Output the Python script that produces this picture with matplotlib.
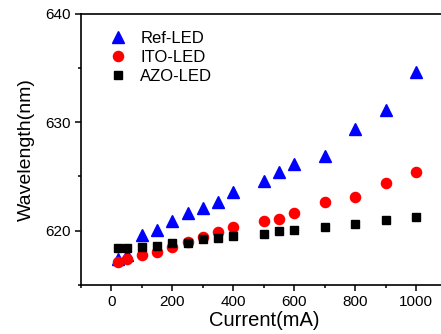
import matplotlib
matplotlib.use("Agg")
import matplotlib.pyplot as plt
from matplotlib.ticker import MultipleLocator

plt.rcParams['font.family'] = ['Liberation Sans', 'DejaVu Sans']

current = [20, 50, 100, 150, 200, 250, 300, 350, 400, 500, 550, 600, 700, 800, 900, 1000]
ref_led = [617.4, 617.8, 619.6, 620.1, 620.9, 621.6, 622.1, 622.6, 623.6, 624.6, 625.4, 626.1, 626.9, 629.4, 631.1, 634.6]
ito_led = [617.1, 617.4, 617.8, 618.0, 618.5, 619.0, 619.4, 619.9, 620.3, 620.9, 621.1, 621.6, 622.6, 623.1, 624.4, 625.4]
azo_led = [618.4, 618.4, 618.5, 618.6, 618.9, 618.9, 619.2, 619.3, 619.5, 619.7, 620.0, 620.1, 620.3, 620.6, 621.0, 621.3]

fig = plt.figure(figsize=(4.41, 3.34), dpi=100)
ax = fig.add_axes([81/441, 1 - 285/334, (446.5 - 81)/441, (285 - 13.5)/334])

ax.plot(current, ref_led, linestyle='none', marker='^', color='#0000ff', markersize=9, label='Ref-LED')
ax.plot(current, ito_led, linestyle='none', marker='o', color='#ff0000', markersize=7.3, label='ITO-LED')
ax.plot(current, azo_led, linestyle='none', marker='s', color='#000000', markersize=6.3, label='AZO-LED')

ax.set_xlim(-100, 1100)
ax.set_ylim(615, 640)
ax.xaxis.set_major_locator(MultipleLocator(200))
ax.xaxis.set_minor_locator(MultipleLocator(100))
ax.yaxis.set_major_locator(MultipleLocator(10))
ax.yaxis.set_minor_locator(MultipleLocator(5))
ax.tick_params(which='both', direction='out', labelsize=11, width=1.1)
ax.tick_params(which='major', length=4)
ax.tick_params(which='minor', length=2.5)
for s in ax.spines.values():
    s.set_linewidth(1.2)

ax.set_xlabel('Current(mA)', fontsize=14.5, labelpad=1)
ax.set_ylabel('Wavelength(nm)', fontsize=14, labelpad=7)

ax.legend(loc='upper left', frameon=False, fontsize=12, handletextpad=0.6,
          labelspacing=0.25, borderaxespad=0.4, handlelength=1.5, bbox_to_anchor=(0.03, 0.985))

fig.savefig('out.png', dpi=100)
